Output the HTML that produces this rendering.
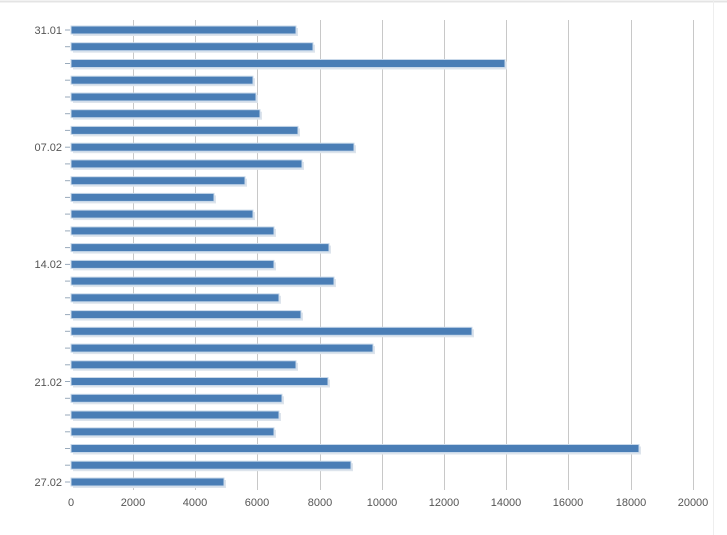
<!DOCTYPE html>
<html><head><style>body{margin:0;background:#fff}svg{display:block}text{font-family:"Liberation Sans",sans-serif;font-size:11px;fill:#555}.s{fill:#dde4ec}.b{fill:#4a7eb6;stroke:#c9d9ea;stroke-width:1}</style></head>
<body>
<svg width="727" height="535" xmlns="http://www.w3.org/2000/svg">
<line x1="0" y1="1.5" x2="727" y2="1.5" stroke="#e4e4e4" stroke-width="2"/>
<line x1="713.5" y1="0" x2="713.5" y2="535" stroke="#eee"/>
<g stroke="#c8c8c8" stroke-width="1">
<line x1="133.5" y1="20" x2="133.5" y2="490"/><line x1="195.5" y1="20" x2="195.5" y2="490"/>
<line x1="257.5" y1="20" x2="257.5" y2="490"/><line x1="320.5" y1="20" x2="320.5" y2="490"/>
<line x1="382.5" y1="20" x2="382.5" y2="490"/><line x1="444.5" y1="20" x2="444.5" y2="490"/>
<line x1="506.5" y1="20" x2="506.5" y2="490"/><line x1="568.5" y1="20" x2="568.5" y2="490"/>
<line x1="631.5" y1="20" x2="631.5" y2="490"/><line x1="693.5" y1="20" x2="693.5" y2="490"/>
</g>
<g transform="translate(2,2)" class="s">
<rect x="71" y="26" width="225" height="8"/><rect x="71" y="42.7" width="242" height="8"/><rect x="71" y="59.5" width="434" height="8"/><rect x="71" y="76.2" width="182" height="8"/><rect x="71" y="93" width="185" height="8"/><rect x="71" y="109.7" width="189" height="8"/><rect x="71" y="126.4" width="227" height="8"/><rect x="71" y="143.2" width="283" height="8"/><rect x="71" y="159.9" width="231" height="8"/><rect x="71" y="176.7" width="174" height="8"/><rect x="71" y="193.4" width="143" height="8"/><rect x="71" y="210.1" width="182" height="8"/><rect x="71" y="226.9" width="203" height="8"/><rect x="71" y="243.6" width="258" height="8"/><rect x="71" y="260.4" width="203" height="8"/><rect x="71" y="277.1" width="263" height="8"/><rect x="71" y="293.8" width="208" height="8"/><rect x="71" y="310.6" width="230" height="8"/><rect x="71" y="327.3" width="401" height="8"/><rect x="71" y="344.1" width="302" height="8"/><rect x="71" y="360.8" width="225" height="8"/><rect x="71" y="377.5" width="257" height="8"/><rect x="71" y="394.3" width="211" height="8"/><rect x="71" y="411" width="208" height="8"/><rect x="71" y="427.8" width="203" height="8"/><rect x="71" y="444.5" width="568" height="8"/><rect x="71" y="461.2" width="280" height="8"/><rect x="71" y="478" width="153" height="8"/>
</g>
<g class="b">
<rect x="71" y="26" width="225" height="8"/><rect x="71" y="42.7" width="242" height="8"/><rect x="71" y="59.5" width="434" height="8"/><rect x="71" y="76.2" width="182" height="8"/><rect x="71" y="93" width="185" height="8"/><rect x="71" y="109.7" width="189" height="8"/><rect x="71" y="126.4" width="227" height="8"/><rect x="71" y="143.2" width="283" height="8"/><rect x="71" y="159.9" width="231" height="8"/><rect x="71" y="176.7" width="174" height="8"/><rect x="71" y="193.4" width="143" height="8"/><rect x="71" y="210.1" width="182" height="8"/><rect x="71" y="226.9" width="203" height="8"/><rect x="71" y="243.6" width="258" height="8"/><rect x="71" y="260.4" width="203" height="8"/><rect x="71" y="277.1" width="263" height="8"/><rect x="71" y="293.8" width="208" height="8"/><rect x="71" y="310.6" width="230" height="8"/><rect x="71" y="327.3" width="401" height="8"/><rect x="71" y="344.1" width="302" height="8"/><rect x="71" y="360.8" width="225" height="8"/><rect x="71" y="377.5" width="257" height="8"/><rect x="71" y="394.3" width="211" height="8"/><rect x="71" y="411" width="208" height="8"/><rect x="71" y="427.8" width="203" height="8"/><rect x="71" y="444.5" width="568" height="8"/><rect x="71" y="461.2" width="280" height="8"/><rect x="71" y="478" width="153" height="8"/>
</g>
<g stroke="#9ab" stroke-width="1">
<line x1="65" x2="70" y1="30" y2="30"/><line x1="65" x2="70" y1="46.7" y2="46.7"/><line x1="65" x2="70" y1="63.5" y2="63.5"/><line x1="65" x2="70" y1="80.2" y2="80.2"/><line x1="65" x2="70" y1="97" y2="97"/><line x1="65" x2="70" y1="113.7" y2="113.7"/><line x1="65" x2="70" y1="130.4" y2="130.4"/><line x1="65" x2="70" y1="147.2" y2="147.2"/><line x1="65" x2="70" y1="163.9" y2="163.9"/><line x1="65" x2="70" y1="180.7" y2="180.7"/><line x1="65" x2="70" y1="197.4" y2="197.4"/><line x1="65" x2="70" y1="214.1" y2="214.1"/><line x1="65" x2="70" y1="230.9" y2="230.9"/><line x1="65" x2="70" y1="247.6" y2="247.6"/><line x1="65" x2="70" y1="264.4" y2="264.4"/><line x1="65" x2="70" y1="281.1" y2="281.1"/><line x1="65" x2="70" y1="297.8" y2="297.8"/><line x1="65" x2="70" y1="314.6" y2="314.6"/><line x1="65" x2="70" y1="331.3" y2="331.3"/><line x1="65" x2="70" y1="348.1" y2="348.1"/><line x1="65" x2="70" y1="364.8" y2="364.8"/><line x1="65" x2="70" y1="381.5" y2="381.5"/><line x1="65" x2="70" y1="398.3" y2="398.3"/><line x1="65" x2="70" y1="415" y2="415"/><line x1="65" x2="70" y1="431.8" y2="431.8"/><line x1="65" x2="70" y1="448.5" y2="448.5"/><line x1="65" x2="70" y1="465.2" y2="465.2"/><line x1="65" x2="70" y1="482" y2="482"/>
</g>
<g text-anchor="end">
<text x="62" y="34">31.01</text><text x="62" y="151">07.02</text><text x="62" y="268">14.02</text><text x="62" y="386">21.02</text><text x="62" y="486">27.02</text>
</g>
<g text-anchor="middle">
<text x="71" y="506">0</text><text x="133" y="506">2000</text><text x="195" y="506">4000</text><text x="257" y="506">6000</text><text x="320" y="506">8000</text><text x="382" y="506">10000</text><text x="444" y="506">12000</text><text x="506" y="506">14000</text><text x="568" y="506">16000</text><text x="631" y="506">18000</text><text x="693" y="506">20000</text>
</g>
</svg>
</body></html>
